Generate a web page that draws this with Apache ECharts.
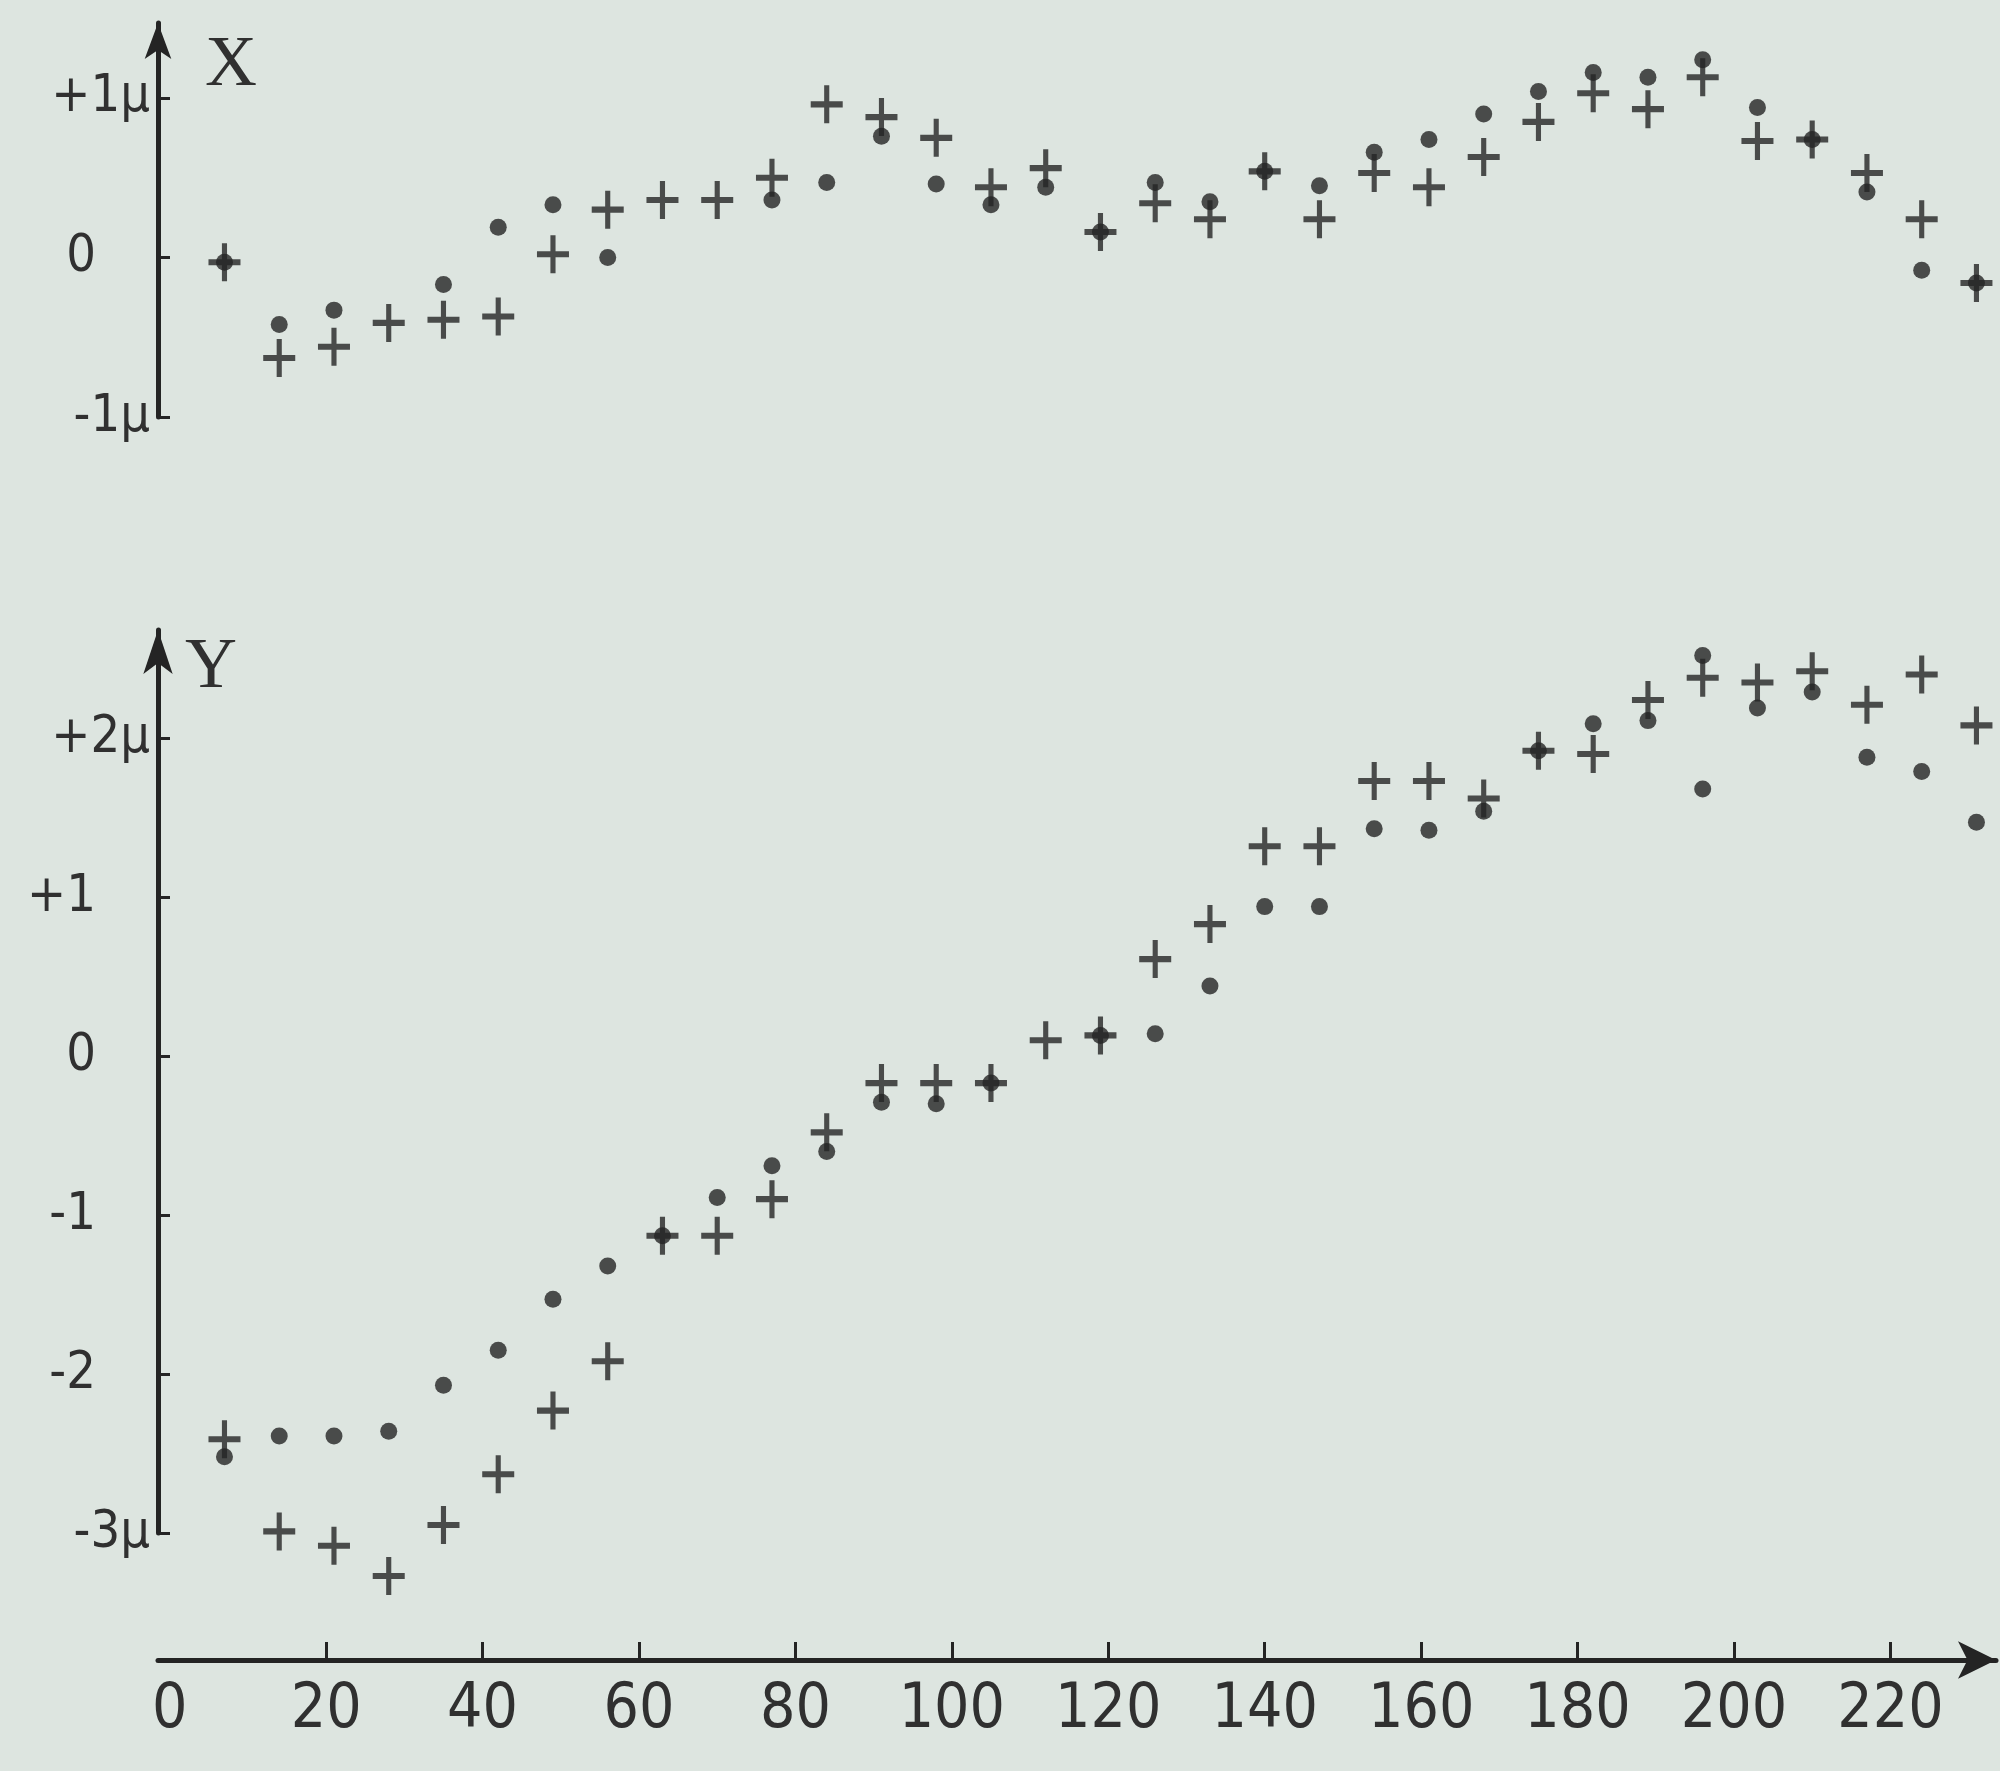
<!DOCTYPE html>
<html><head><meta charset="utf-8">
<script src="https://cdn.jsdelivr.net/npm/echarts@6/dist/echarts.min.js"></script>
<style>html,body{margin:0;padding:0;background:#dde5e0}#c{width:2000px;height:1771px}</style>
</head><body><div id="c"></div>
<script>
// sampling positions (x axis)
const days = [7,14,21,28,35,42,49,56,63,70,77,84,91,98,105,112,119,126,133,140,147,154,161,168,175,182,189,196,203,210,217,224,231];
// X panel (μ)
const xDots   = [-0.03,-0.42,-0.33,null,-0.17,0.19,0.33,0.00,null,null,0.36,0.47,0.76,0.46,0.33,0.44,0.16,0.47,0.35,0.54,0.45,0.66,0.74,0.90,1.04,1.16,1.13,1.24,0.94,0.74,0.41,-0.08,-0.16];
const xPluses = [-0.03,-0.63,-0.56,-0.41,-0.39,-0.37,0.02,0.30,0.36,0.36,0.50,0.96,0.88,0.75,0.44,0.56,0.16,0.34,0.24,0.54,0.24,0.53,0.44,0.63,0.85,1.03,0.93,1.13,0.73,0.74,0.53,0.24,-0.16];
// Y panel (μ)
const yDots   = [-2.52,-2.39,-2.39,-2.36,-2.07,-1.85,-1.53,-1.32,-1.13,-0.89,-0.69,-0.60,-0.29,-0.30,-0.17,null,0.13,0.14,0.44,0.94,0.94,1.43,1.42,1.54,1.92,2.09,2.11,1.68,2.19,2.29,1.88,1.79,1.47];
const yPluses = [-2.41,-2.99,-3.08,-3.27,-2.95,-2.63,-2.23,-1.92,-1.13,-1.13,-0.90,-0.48,-0.17,-0.17,-0.17,0.10,0.13,0.61,0.83,1.32,1.32,1.73,1.73,1.62,1.92,1.90,2.24,2.38,2.35,2.42,2.21,2.40,2.08];
const yExtraDays = [196];
const yExtraDots = [2.52];
// tick labels
const xTickValues = [0,20,40,60,80,100,120,140,160,180,200,220];
const xTickMarks  = [20,40,60,80,100,120,140,160,180,200,220];
const topTickValues = [-1,0,1];
const topTickLabels = ['-1μ','0','+1μ'];
const botTickValues = [-3,-2,-1,0,1,2];
const botTickLabels = ['-3μ','-2','-1','0','+1','+2μ'];

const INK = '#242424';
const TXT = '#303030';
const SANS = "'Liberation Sans Narrow','DejaVu Sans Condensed','Liberation Sans',sans-serif";
const PLUS = 'path://M42,0 H58 V42 H100 V58 H58 V100 H42 V58 H0 V42 H42 Z';

function pairs(xs, ys){ return xs.map((x,i)=>[x, ys[i]]).filter(p=>p[1]!==null && p[1]!==undefined); }
function makeFmt(vals, labels){
  return function(v){
    const i = vals.findIndex(t=>Math.abs(t-v)<1e-6);
    if(i<0) return '';
    const t = labels[i];
    return t.indexOf('μ')>=0 ? '{t|'+t+'}' : '{t|'+t+'}{pad|}';
  };
}
const labelRich = {
  t:{fontSize:52, fontFamily:SANS, color:TXT},
  pad:{width:54}
};
const X_MIN = -1.5, X_MAX = 233.5;

const chart = echarts.init(document.getElementById('c'), null, {renderer:'canvas'});
chart.setOption({
  backgroundColor:'#dde5e0',
  animation:false,
  grid:[
    {left:158, right:4, top:23, height:394},
    {left:158, right:4, top:630, height:903}
  ],
  xAxis:[
    {gridIndex:0, type:'value', min:X_MIN, max:X_MAX, show:false},
    {gridIndex:1, type:'value', min:X_MIN, max:X_MAX, offset:127,
     axisLine:{show:true, onZero:false, symbol:['none','arrow'], symbolSize:[28,38], lineStyle:{color:INK, width:5}},
     axisTick:{show:true, inside:true, length:18, customValues:xTickMarks, lineStyle:{color:INK, width:3}},
     axisLabel:{show:true, customValues:xTickValues, margin:20, fontSize:62, fontFamily:SANS, color:TXT},
     splitLine:{show:false}}
  ],
  yAxis:[
    {gridIndex:0, type:'value', min:-1, max:1.47,
     axisLine:{show:true, onZero:false, symbol:['none','arrow'], symbolSize:[20,36], lineStyle:{color:INK, width:5}},
     axisTick:{show:true, inside:true, length:12, customValues:topTickValues, lineStyle:{color:INK, width:3}},
     axisLabel:{show:true, customValues:topTickValues, margin:8, formatter:makeFmt(topTickValues, topTickLabels), rich:labelRich, fontSize:52, fontFamily:SANS, color:TXT},
     splitLine:{show:false}},
    {gridIndex:1, type:'value', min:-3, max:2.68,
     axisLine:{show:true, onZero:false, symbol:['none','arrow'], symbolSize:[22,44], lineStyle:{color:INK, width:5}},
     axisTick:{show:true, inside:true, length:12, customValues:botTickValues, lineStyle:{color:INK, width:3}},
     axisLabel:{show:true, customValues:botTickValues, margin:8, formatter:makeFmt(botTickValues, botTickLabels), rich:labelRich, fontSize:52, fontFamily:SANS, color:TXT},
     splitLine:{show:false}}
  ],
  graphic:[
    {type:'text', left:205, top:30, style:{text:'X', font:"72px 'Liberation Serif','DejaVu Serif',serif", fill:TXT}},
    {type:'text', left:185, top:632, style:{text:'Y', font:"72px 'Liberation Serif','DejaVu Serif',serif", fill:TXT}}
  ],
  series:[
    {type:'scatter', clip:false, xAxisIndex:0, yAxisIndex:0, data:pairs(days,xDots), symbol:'circle', symbolSize:17, itemStyle:{color:INK}, silent:true},
    {type:'scatter', clip:false, xAxisIndex:0, yAxisIndex:0, data:pairs(days,xPluses), symbol:PLUS, symbolSize:[32,38], itemStyle:{color:INK}, silent:true},
    {type:'scatter', clip:false, xAxisIndex:1, yAxisIndex:1, data:pairs(days,yDots), symbol:'circle', symbolSize:17, itemStyle:{color:INK}, silent:true},
    {type:'scatter', clip:false, xAxisIndex:1, yAxisIndex:1, data:pairs(yExtraDays,yExtraDots), symbol:'circle', symbolSize:17, itemStyle:{color:INK}, silent:true},
    {type:'scatter', clip:false, xAxisIndex:1, yAxisIndex:1, data:pairs(days,yPluses), symbol:PLUS, symbolSize:[32,38], itemStyle:{color:INK}, silent:true}
  ]
});
</script></body></html>
